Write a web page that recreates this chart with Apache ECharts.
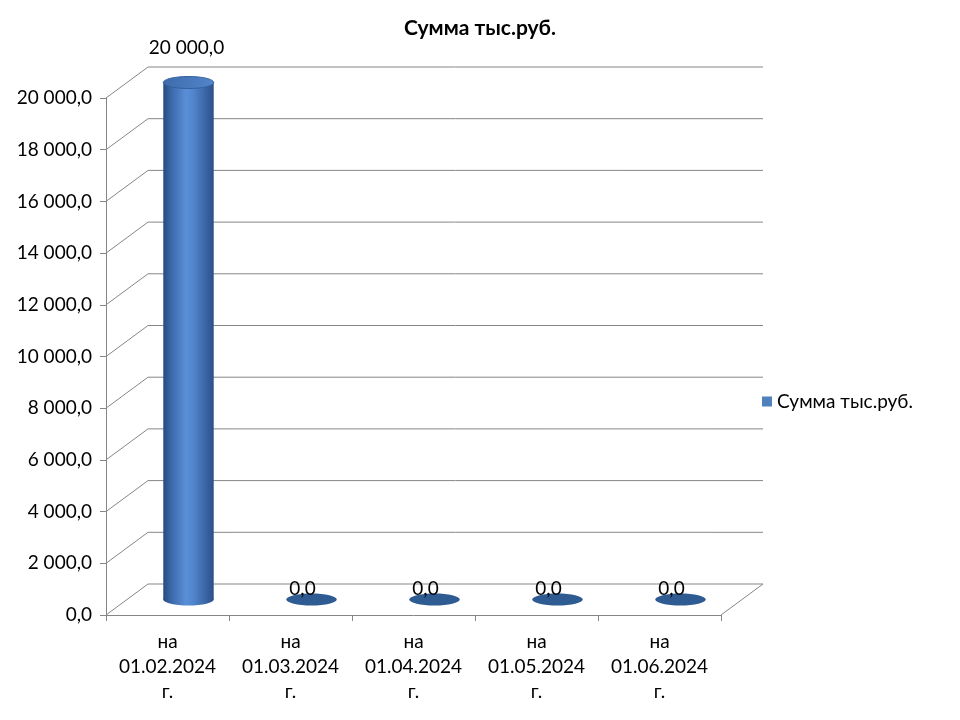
<!DOCTYPE html>
<html>
<head>
<meta charset="utf-8">
<script src="https://cdn.jsdelivr.net/npm/echarts@6/dist/echarts.min.js"></script>
<style>
  html, body { margin: 0; padding: 0; background: #fff; }
  #chart { width: 960px; height: 720px; }
</style>
</head>
<body>
<div id="chart"></div>
<script>
  // chart data
  var seriesName = 'Сумма тыс.руб.'
  var categories = [
    'на\n01.02.2024\nг.',
    'на\n01.03.2024\nг.',
    'на\n01.04.2024\nг.',
    'на\n01.05.2024\nг.',
    'на\n01.06.2024\nг.'
  ]
  var values = [20000, 0, 0, 0, 0]
  var yTicks = [0, 2000, 4000, 6000, 8000, 10000, 12000, 14000, 16000, 18000, 20000]

  // depth of the fake 3d box
  var DX = 42
  var DY = 31
  var FONT = 'Lato'
  var GRID_COLOR = '#868686'

  function fmt (v) {
    return v.toFixed(1).replace('.', ',').replace(/\B(?=(\d{3})+(?!\d))/g, ' ')
  }

  var chart = echarts.init(document.getElementById('chart'))

  var option = {
    animation: false,
    textStyle: { fontFamily: FONT },
    title: {
      text: seriesName,
      left: 'center',
      top: 13,
      textStyle: { fontSize: 21, fontWeight: 'bold', color: '#000', fontFamily: FONT }
    },
    legend: {
      data: [{ name: seriesName, icon: 'rect' }],
      orient: 'vertical',
      left: 757,
      top: 387,
      itemWidth: 10,
      itemHeight: 10,
      itemGap: 5,
      textStyle: { fontSize: 19, color: '#000', fontFamily: FONT }
    },
    grid: {
      left: 106,
      right: 239,
      top: 98,
      bottom: 105,
      containLabel: false
    },
    xAxis: {
      type: 'category',
      data: categories,
      axisLine: { show: true, lineStyle: { color: GRID_COLOR } },
      axisTick: { show: true, length: 6, lineStyle: { color: GRID_COLOR } },
      axisLabel: { fontSize: 19, color: '#000', lineHeight: 25, margin: 14, interval: 0 },
      splitLine: { show: false }
    },
    yAxis: {
      type: 'value',
      min: 0,
      max: 20000,
      interval: 2000,
      axisLine: { show: true, lineStyle: { color: GRID_COLOR } },
      axisTick: { show: true, length: 6, lineStyle: { color: GRID_COLOR } },
      axisLabel: { fontSize: 19, color: '#000', margin: 14, formatter: fmt },
      splitLine: { show: false }
    },
    series: [
      {
        // back wall gridlines + left side diagonals
        name: 'frame',
        type: 'custom',
        silent: true,
        z: 1,
        data: yTicks.map(function (v) { return [0, v] }),
        renderItem: function (params, api) {
          var v = api.value(1)
          var y = api.coord([0, v])[1]
          var x0 = params.coordSys.x
          var x1 = x0 + params.coordSys.width
          var children = [{
            type: 'polyline',
            shape: { points: [[x0, y], [x0 + DX, y - DY], [x1 + DX, y - DY]] },
            style: { stroke: GRID_COLOR, lineWidth: 1, fill: null }
          }]
          if (v === 0) {
            children.push({
              type: 'line',
              shape: { x1: x1, y1: y, x2: x1 + DX, y2: y - DY },
              style: { stroke: GRID_COLOR, lineWidth: 1 }
            })
          }
          return { type: 'group', children: children }
        }
      },
      {
        name: seriesName,
        type: 'custom',
        z: 3,
        itemStyle: { color: '#4f81bd' },
        data: values.map(function (v, i) { return [i, v] }),
        renderItem: function (params, api) {
          var v = api.value(1)
          var i = api.value(0)
          var top = api.coord([i, v])
          var bot = api.coord([i, 0])
          var cx = top[0] + DX / 2
          var ty = top[1] - DY / 2
          var by = bot[1] - DY / 2
          var rx = api.size([1, 0])[0] * 0.205
          var ry = 6
          var children = []
          if (v > 0) {
            var body = new echarts.graphic.LinearGradient(0, 0, 1, 0, [
              { offset: 0, color: '#274a7e' },
              { offset: 0.15, color: '#3a67a8' },
              { offset: 0.45, color: '#5a8fd8' },
              { offset: 0.6, color: '#5085cc' },
              { offset: 1, color: '#2b5089' }
            ])
            children.push({
              type: 'ellipse',
              shape: { cx: cx, cy: by, rx: rx, ry: ry },
              style: { fill: body }
            })
            children.push({
              type: 'rect',
              shape: { x: cx - rx, y: ty, width: rx * 2, height: by - ty },
              style: { fill: body }
            })
            children.push({
              type: 'ellipse',
              shape: { cx: cx, cy: ty, rx: rx, ry: ry },
              style: {
                fill: new echarts.graphic.LinearGradient(0, 0, 1, 1, [
                  { offset: 0, color: '#3d6aaa' },
                  { offset: 1, color: '#5486cb' }
                ]),
                stroke: '#33609e',
                lineWidth: 1
              }
            })
            children.push({
              type: 'text',
              style: {
                text: fmt(v),
                x: cx - 2,
                y: ty - 35,
                align: 'center',
                verticalAlign: 'middle',
                fontSize: 19,
                fontFamily: FONT,
                fill: '#000'
              }
            })
          } else {
            children.push({
              type: 'ellipse',
              shape: { cx: cx, cy: by, rx: rx, ry: ry },
              style: { fill: '#2f5b93' }
            })
            children.push({
              type: 'text',
              style: {
                text: fmt(v),
                x: cx - 9,
                y: by - 11,
                align: 'center',
                verticalAlign: 'middle',
                fontSize: 19,
                fontFamily: FONT,
                fill: '#000'
              }
            })
          }
          return { type: 'group', children: children }
        }
      }
    ]
  }

  chart.setOption(option)
</script>
</body>
</html>
